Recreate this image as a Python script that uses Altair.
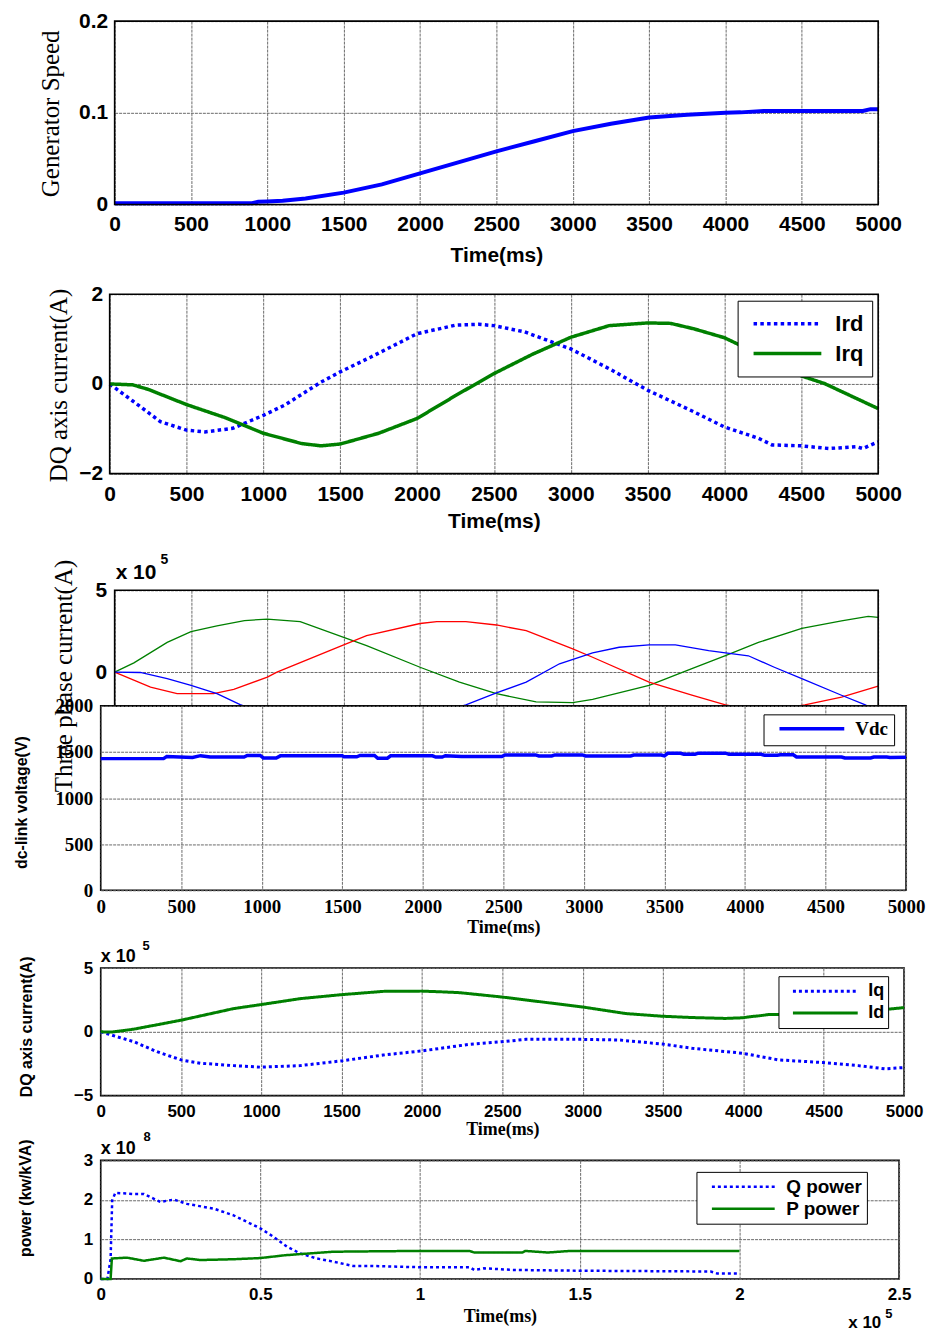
import altair as alt
import pandas as pd

SANS = "Liberation Sans"
SERIF = "Liberation Serif"
BLUE, GREEN, RED = "#0000ff", "#008000", "#ff0000"
GRID = "#6a6a6a"

# ---------------- data ----------------
# Panel 1: generator speed
speed_t = [0, 500, 900, 940, 1000, 1100, 1250, 1500, 1750, 2000, 2250, 2500, 2750, 3000,
           3250, 3500, 3750, 4000, 4100, 4250, 4500, 4750, 4900, 4950, 5000]
speed_v = [0.0015, 0.0015, 0.0015, 0.003, 0.0033, 0.004, 0.0065, 0.013, 0.022, 0.034, 0.046,
           0.058, 0.069, 0.080, 0.088, 0.095, 0.098, 0.100, 0.1005, 0.102, 0.102, 0.102,
           0.102, 0.104, 0.104]

# Panel 2: rotor DQ currents
ird_t = [0, 150, 330, 500, 620, 800, 1000, 1140, 1375, 1500, 1700, 2000, 2250, 2400, 2500,
         2700, 3000, 3250, 3500, 3800, 4000, 4220, 4310, 4500, 4680, 4860, 4900, 5000]
ird_v = [0, -0.38, -0.84, -1.03, -1.07, -0.99, -0.70, -0.47, 0.04, 0.27, 0.60, 1.12, 1.31,
         1.33, 1.30, 1.16, 0.78, 0.34, -0.14, -0.62, -0.96, -1.21, -1.36, -1.38, -1.44,
         -1.40, -1.44, -1.29]
irq_t = [0, 150, 250, 500, 750, 1000, 1250, 1375, 1500, 1750, 2000, 2250, 2500, 2750, 3000,
         3250, 3500, 3650, 3800, 4000, 4250, 4500, 4650, 4850, 5000]
irq_v = [0, -0.02, -0.12, -0.46, -0.75, -1.10, -1.33, -1.38, -1.34, -1.10, -0.77, -0.26,
         0.23, 0.66, 1.04, 1.30, 1.36, 1.35, 1.23, 1.03, 0.62, 0.18, 0.01, -0.31, -0.55]

# Panel 3: three phase currents (x 1e5)
ia_t = [0, 126, 344, 500, 670, 850, 1000, 1215, 1500, 1650, 2000, 2258, 2500, 2760, 3000,
        3130, 3500, 3780, 4000, 4216, 4500, 4760, 4935, 5000]
ia_v = [0, 0.57, 1.82, 2.47, 2.83, 3.15, 3.24, 3.08, 2.12, 1.62, 0.30, -0.61, -1.31, -1.82,
        -1.86, -1.66, -0.81, 0.21, 1.01, 1.82, 2.67, 3.13, 3.40, 3.35]
ib_t = [0, 235, 409, 648, 780, 1000, 1063, 1500, 1650, 2000, 2110, 2300, 2500, 2695, 3000,
        3130, 3500, 3780, 4000, 4250, 4520, 4760, 5000]
ib_v = [0, -0.91, -1.31, -1.31, -1.05, -0.30, 0.0, 1.66, 2.23, 2.97, 3.08, 3.08, 2.88, 2.53,
        1.42, 0.91, -0.61, -1.41, -2.0, -2.4, -2.0, -1.52, -0.85]
ic_t = [0, 168, 344, 500, 670, 822, 1000, 1300, 1600, 1900, 2150, 2300, 2500, 2695, 2913,
        3130, 3304, 3500, 3672, 3890, 4000, 4150, 4320, 4500, 4760, 4912, 5000]
ic_v = [0, -0.02, -0.40, -0.81, -1.31, -1.98, -2.6, -3.1, -3.2, -2.9, -2.4, -2.0, -1.27,
        -0.61, 0.51, 1.18, 1.52, 1.66, 1.66, 1.32, 1.18, 1.0, 0.30, -0.40, -1.41, -1.98, -2.4]

# Panel 4: dc-link voltage
vdc_t = [0, 390, 410, 570, 620, 680, 890, 910, 990, 1010, 1090, 1115, 1500, 1510, 1590, 1610,
         1700, 1720, 1780, 1800, 2060, 2080, 2120, 2140, 2240, 2490, 2510, 2700, 2720, 2800,
         2820, 2990, 3010, 3290, 3310, 3480, 3500, 3520, 3600, 3620, 3690, 3710, 3880, 3900,
         4100, 4120, 4200, 4220, 4300, 4320, 4600, 4620, 4780, 4800, 4880, 4900, 5000]
vdc_v = [1428, 1428, 1450, 1440, 1460, 1445, 1445, 1462, 1462, 1435, 1435, 1458, 1458, 1448,
         1448, 1462, 1462, 1432, 1432, 1458, 1458, 1445, 1445, 1460, 1450, 1450, 1468, 1468,
         1457, 1457, 1468, 1468, 1457, 1457, 1467, 1467, 1457, 1485, 1485, 1475, 1475, 1487,
         1487, 1475, 1475, 1465, 1465, 1470, 1470, 1446, 1446, 1435, 1435, 1445, 1445, 1440,
         1442]

# Panel 5: stator DQ currents (x 1e5)
iq_t = [0, 207, 351, 500, 620, 827, 995, 1241, 1497, 1758, 1996, 2296, 2496, 2647, 2997, 3226,
        3497, 3681, 3995, 4218, 4496, 4715, 4880, 5000]
iq_v = [0, -0.78, -1.56, -2.20, -2.46, -2.65, -2.77, -2.65, -2.28, -1.82, -1.50, -0.98, -0.78,
        -0.59, -0.59, -0.64, -0.96, -1.29, -1.68, -2.20, -2.41, -2.65, -2.90, -2.80]
id_t = [0, 70, 207, 500, 827, 995, 1241, 1497, 1758, 1996, 2110, 2233, 2496, 2997, 3268, 3497,
        3681, 3888, 3995, 4053, 4094, 4156, 4300, 4500, 4750, 4940, 5000]
id_v = [0, -0.02, 0.21, 0.91, 1.82, 2.13, 2.60, 2.91, 3.17, 3.19, 3.14, 3.07, 2.73, 1.95, 1.43,
        1.22, 1.12, 1.05, 1.10, 1.20, 1.25, 1.35, 1.35, 1.45, 1.60, 1.82, 1.90]

# Panel 6: powers (time x 1e5, power x 1e8)
q_t = [0, 0.021, 0.031, 0.036, 0.046, 0.104, 0.135, 0.187, 0.229, 0.27, 0.354, 0.416, 0.5,
       0.541, 0.583, 0.624, 0.676, 0.728, 0.79, 0.853, 0.936, 0.994, 1.155, 1.17, 1.2, 1.29,
       1.5, 1.91, 1.93, 2.0]
q_v = [0, 0, 0.5, 1.99, 2.18, 2.15, 2.15, 1.95, 2.01, 1.90, 1.78, 1.61, 1.28, 1.07, 0.82,
       0.65, 0.52, 0.44, 0.33, 0.33, 0.31, 0.30, 0.30, 0.23, 0.27, 0.23, 0.21, 0.19, 0.14, 0.14]
p_t = [0, 0.031, 0.035, 0.083, 0.135, 0.198, 0.25, 0.27, 0.312, 0.416, 0.5, 0.576, 0.624,
       0.676, 0.728, 0.85, 0.994, 1.155, 1.17, 1.32, 1.33, 1.40, 1.47, 2.0]
p_v = [0, 0, 0.52, 0.54, 0.46, 0.54, 0.45, 0.52, 0.48, 0.50, 0.53, 0.60, 0.63, 0.66, 0.69,
       0.70, 0.71, 0.71, 0.67, 0.67, 0.71, 0.67, 0.71, 0.71]

time_ticks = [0, 500, 1000, 1500, 2000, 2500, 3000, 3500, 4000, 4500, 5000]
time_ticks6 = [0, 0.5, 1, 1.5, 2, 2.5]
exp5 = ["x 10", "5"]
exp8 = ["x 10", "8"]

FRAME = alt.ViewBackground(stroke="black", strokeWidth=1.6)


def long_df(ts, vs, names):
    return pd.concat([pd.DataFrame({"t": t, "v": v, "s": n}) for t, v, n in zip(ts, vs, names)],
                     ignore_index=True)


def xaxis(values, fmt, font, size, pad, title, ty, tfont=SANS, tsize=21, labels=True):
    kw = dict(values=values, format=fmt, labels=labels, labelFont=font, labelFontSize=size,
              labelFontWeight="bold", labelColor="black", labelPadding=pad, labelFlush=False,
              labelOverlap=False, ticks=False, tickSize=0, domain=False, grid=True,
              gridColor=GRID, gridDash=[3, 1], gridWidth=1)
    if title is None:
        kw["title"] = None
    else:
        kw.update(title=title, titleFont=tfont, titleFontSize=tsize, titleFontWeight="bold",
                  titleColor="black", titleY=ty, titleBaseline="alphabetic", titleAlign="center")
    return alt.Axis(**kw)


def yaxis(values, fmt, font, size, pad, title, tfont, tsize, tweight, tx, ty, offset=0):
    return alt.Axis(values=values, format=fmt, labelFont=font, labelFontSize=size,
                    labelFontWeight="bold", labelColor="black", labelPadding=pad,
                    labelOverlap=False, ticks=False, tickSize=0, domain=False, grid=True,
                    gridColor=GRID, gridDash=[3, 1], gridWidth=1, title=title, titleFont=tfont,
                    titleFontSize=tsize, titleFontWeight=tweight, titleColor="black",
                    titleAngle=270, titleAlign="center", titleBaseline="middle",
                    titleX=tx, titleY=ty, offset=offset)


def legend(x, y, font, size, sym_len, sym_w, clip_h, pad, label_off, sym_off):
    return alt.Legend(orient="none", legendX=x, legendY=y, title=None, symbolType="stroke",
                      symbolSize=sym_len ** 2, symbolStrokeWidth=sym_w, labelFont=font,
                      labelFontSize=size, labelFontWeight="bold", labelColor="black",
                      strokeColor="black", fillColor="white", padding=pad, cornerRadius=0,
                      clipHeight=clip_h, rowPadding=0, labelOffset=label_off,
                      symbolOffset=sym_off)


def exp_text(label, x, y, size):
    return alt.Chart(pd.DataFrame({"lab": [label]})).mark_text(
        align="left", baseline="alphabetic", font=SANS, fontWeight="bold", fontSize=size,
        color="black").encode(text="lab:N", x=alt.value(x), y=alt.value(y))


def frame_rect(x0, x1, y0, y1):
    # plot frame drawn through the panel's own scales (domain extents)
    return alt.Chart(pd.DataFrame({"x0": [x0], "x1": [x1], "y0": [y0], "y1": [y1]})).mark_rect(
        filled=False, stroke="black", strokeWidth=1.6).encode(
        x="x0:Q", x2="x1:Q", y="y0:Q", y2="y1:Q")


def spacer(h):
    return alt.Chart(pd.DataFrame({"z": [0]})).mark_point(opacity=0).properties(width=1, height=h)


# ---------------- panel 1 ----------------
p1_line = alt.Chart(pd.DataFrame({"t": speed_t, "v": speed_v})).mark_line(
    color=BLUE, strokeWidth=4).encode(
    x=alt.X("t:Q", scale=alt.Scale(domain=[0, 5000], range=[14, 780], nice=False),
            axis=xaxis(time_ticks, "d", SANS, 21, 9, "Time(ms)", 57)),
    y=alt.Y("v:Q", scale=alt.Scale(domain=[0, 0.2], nice=False),
            axis=yaxis([0, 0.1, 0.2], ".1~f", SANS, 21, 7, "Generator Speed", SERIF, 25,
                       "normal", -64, 92.5, offset=-14)),
)
p1 = alt.layer(p1_line, frame_rect(0, 5000, 0, 0.2)).properties(width=780, height=184)

# ---------------- panel 2 ----------------
leg2 = legend(639, 6.5, SANS, 22, 68, 3.5, 30, 8, 12, 6)
p2_lines = alt.Chart(long_df([ird_t, irq_t], [ird_v, irq_v], ["Ird", "Irq"])).mark_line(
    strokeWidth=3.5, strokeCap="butt").encode(
    x=alt.X("t:Q", scale=alt.Scale(domain=[0, 5000], range=[9, 780], nice=False),
            axis=xaxis(time_ticks, "d", SANS, 21, 10, "Time(ms)", 54.5)),
    y=alt.Y("v:Q", scale=alt.Scale(domain=[-2, 2], nice=False),
            axis=yaxis([-2, 0, 2], "d", SANS, 21, 7, "DQ axis  current(A)", SERIF, 25,
                       "normal", -51.5, 91, offset=-9)),
    color=alt.Color("s:N", scale=alt.Scale(domain=["Ird", "Irq"], range=[BLUE, GREEN]),
                    legend=leg2),
    strokeDash=alt.StrokeDash("s:N", scale=alt.Scale(domain=["Ird", "Irq"],
                                                     range=[[3.5, 3.3], [1, 0]]),
                              legend=leg2),
)
p2 = alt.layer(p2_lines, frame_rect(0, 5000, -2, 2)).properties(width=780, height=180)

# ---------------- panel 3 ----------------
p3_lines = alt.Chart(long_df([ia_t, ib_t, ic_t], [ia_v, ib_v, ic_v], ["a", "b", "c"])).mark_line(
    strokeWidth=1.3, clip=True).encode(
    x=alt.X("t:Q", scale=alt.Scale(domain=[0, 5000], range=[14, 780], nice=False),
            axis=xaxis(time_ticks, "d", SANS, 21, 11, None, 0, labels=False)),
    y=alt.Y("v:Q", scale=alt.Scale(domain=[-2.06, 5], nice=False),
            axis=yaxis([0, 5], "d", SANS, 21, 8, "Three phase current(A)", SERIF, 25,
                       "normal", -51.5, 85.5, offset=-14)),
    color=alt.Color("s:N", scale=alt.Scale(domain=["a", "b", "c"], range=[GREEN, RED, BLUE]),
                    legend=None),
)
p3 = alt.layer(p3_lines, frame_rect(0, 5000, -2.06, 5),
               exp_text(exp5[0], 15, -11, 21), exp_text(exp5[1], 60, -26, 14)
               ).properties(width=780, height=116)

# ---------------- panel 4 ----------------
leg4 = legend(665, 8.5, SERIF, 19, 65, 3.5, 17, 6, 9, 8)
p4 = alt.Chart(pd.DataFrame({"t": vdc_t, "v": vdc_v, "s": "Vdc"})).mark_line(
    strokeWidth=3.5).encode(
    x=alt.X("t:Q", scale=alt.Scale(domain=[0, 5000], nice=False),
            axis=xaxis(time_ticks, "d", SERIF, 19, 7, "Time(ms)", 42.3, tfont=SERIF, tsize=18)),
    y=alt.Y("v:Q", scale=alt.Scale(domain=[0, 2000], nice=False),
            axis=yaxis([0, 500, 1000, 1500, 2000], "d", SERIF, 19, 8, "dc-link voltage(V)",
                       SANS, 16, "bold", -79, 96.5)),
    color=alt.Color("s:N", scale=alt.Scale(domain=["Vdc"], range=[BLUE]), legend=leg4),
).properties(width=808, height=185, view=FRAME)

# ---------------- panel 5 ----------------
leg5 = legend(680, 8.2, SANS, 18, 65, 3, 22, 4, 9, 9)
p5_lines = alt.Chart(long_df([iq_t, id_t], [iq_v, id_v], ["Iq", "Id"])).mark_line(
    strokeWidth=3, strokeCap="butt").encode(
    x=alt.X("t:Q", scale=alt.Scale(domain=[0, 5000], nice=False),
            axis=xaxis(time_ticks, "d", SANS, 17, 8, "Time(ms)", 39.3, tfont=SERIF, tsize=18)),
    y=alt.Y("v:Q", scale=alt.Scale(domain=[-5, 5], nice=False),
            axis=yaxis([-5, 0, 5], "d", SANS, 17, 8, "DQ axis current(A)", SANS, 16, "bold",
                       -74, 58.5)),
    color=alt.Color("s:N", scale=alt.Scale(domain=["Iq", "Id"], range=[BLUE, GREEN]),
                    legend=leg5),
    strokeDash=alt.StrokeDash("s:N", scale=alt.Scale(domain=["Iq", "Id"],
                                                     range=[[3, 3], [1, 0]]), legend=leg5),
)
p5 = alt.layer(p5_lines, exp_text(exp5[0], 0, -6.5, 18), exp_text(exp5[1], 42, -18, 13)
               ).properties(width=806, height=128, view=FRAME)

# ---------------- panel 6 ----------------
leg6 = legend(597.7, 11.5, SANS, 19, 63, 2.5, 22, 4, 10, 10)
p6_lines = alt.Chart(long_df([q_t, p_t], [q_v, p_v], ["Q power", "P power"])).mark_line(
    strokeWidth=2.5, strokeCap="butt").encode(
    x=alt.X("t:Q", scale=alt.Scale(domain=[0, 2.5], nice=False),
            axis=xaxis(time_ticks6, ".1~f", SANS, 17, 8, "Time(ms)", 43, tfont=SERIF,
                       tsize=18)),
    y=alt.Y("v:Q", scale=alt.Scale(domain=[0, 3], nice=False),
            axis=yaxis([0, 1, 2, 3], "d", SANS, 17, 8, "power (kw/kVA)", SANS, 16, "bold",
                       -75, 37.5)),
    color=alt.Color("s:N", scale=alt.Scale(domain=["Q power", "P power"], range=[BLUE, GREEN]),
                    legend=leg6),
    strokeDash=alt.StrokeDash("s:N", scale=alt.Scale(domain=["Q power", "P power"],
                                                     range=[[3, 3], [1, 0]]), legend=leg6),
)
p6 = alt.layer(p6_lines, exp_text(exp8[0], 0, -6.7, 18), exp_text(exp8[1], 43, -19, 13),
               exp_text(exp5[0], 750, 168, 17), exp_text(exp5[1], 787, 158, 13)
               ).properties(width=801, height=119, view=FRAME)

chart = alt.vconcat(
    p1, spacer(90), p2, spacer(117), p3, p4, spacer(78), p5, spacer(65), p6,
    spacing=0, bounds="flush"
).resolve_scale(
    x="independent", y="independent", color="independent", strokeDash="independent"
).resolve_legend(color="independent", strokeDash="independent").properties(
    padding={"left": 5, "top": 0, "right": 0, "bottom": 0}, background="white"
).configure_view(stroke=None)

chart.save("out.html", embed_options={"renderer": "svg", "actions": False})
